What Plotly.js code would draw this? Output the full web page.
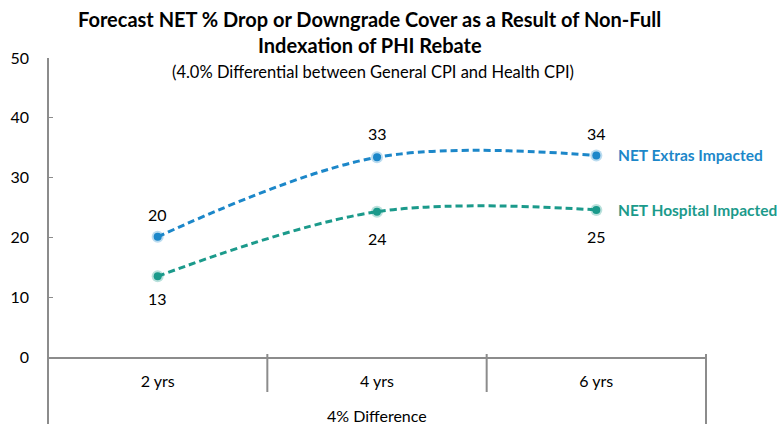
<!DOCTYPE html>
<html>
<head>
<meta charset="utf-8">
<script src="https://cdn.plot.ly/plotly-3.0.1.min.js"></script>
<style>html,body{margin:0;padding:0;background:#fff;}#chart{width:780px;height:426px;}</style>
</head>
<body>
<div id="chart"></div>
<script>
const categories = ["2 yrs", "4 yrs", "6 yrs"];
const groupLabel = "4% Difference";
const extrasName = "NET Extras Impacted";
const hospitalName = "NET Hospital Impacted";
const extrasValues = [20.1, 33.4, 33.7];
const hospitalValues = [13.5, 24.3, 24.6];
const extrasLabels = ["20", "33", "34"];
const hospitalLabels = ["13", "24", "25"];
const yTicks = [0, 10, 20, 30, 40, 50];
const titleLines = ["Forecast NET % Drop or Downgrade Cover as a Result of Non-Full", "Indexation of PHI Rebate"];
const subtitle = "(4.0% Differential between General CPI and Health CPI)";

const blue = "#1C87C9";
const teal = "#1B9A8B";
const FONT = "Lato, 'Open Sans', sans-serif";

function series(vals, color, name) {
  return {
    type: "scatter", mode: "lines+markers", name: name,
    x: categories, y: vals,
    line: {color: color, width: 3, dash: "7px,4px", shape: "spline", smoothing: 1},
    marker: {size: 8, color: color},
    cliponaxis: false, hoverinfo: "skip"
  };
}
function glow(vals, color) {
  return {type: "scatter", mode: "markers", x: categories, y: vals, showlegend: false,
    marker: {size: 12, color: color, opacity: 0.3}, hoverinfo: "skip", cliponaxis: false};
}

const data = [
  glow(extrasValues, blue), glow(hospitalValues, teal),
  series(extrasValues, blue, extrasName),
  series(hospitalValues, teal, hospitalName)
];

const axisColor = "#8c8c8c";
const ext = -0.224;
const shapes = [
  {type: "line", xref: "paper", yref: "paper", x0: 0, x1: 0, y0: ext, y1: 1, line: {color: axisColor, width: 2}},
  {type: "line", xref: "paper", yref: "paper", x0: 1, x1: 1, y0: ext, y1: 0.01, line: {color: axisColor, width: 2}},
  {type: "line", xref: "x", yref: "paper", x0: 0.5, x1: 0.5, y0: -0.117, y1: 0.01, line: {color: axisColor, width: 2}},
  {type: "line", xref: "x", yref: "paper", x0: 1.5, x1: 1.5, y0: -0.117, y1: 0.01, line: {color: axisColor, width: 2}}
];

const last = categories.length - 1;
const labelFont = {family: FONT, size: 16, color: "#000"};
const annotations = [
  {xref: "x", yref: "y", x: categories[last], y: extrasValues[last], text: "<b>" + extrasName + "</b>",
   showarrow: false, xanchor: "left", xshift: 20, font: {family: FONT, size: 15.5, color: blue}},
  {xref: "x", yref: "y", x: categories[last], y: hospitalValues[last], text: "<b>" + hospitalName + "</b>",
   showarrow: false, xanchor: "left", xshift: 20, font: {family: FONT, size: 15.5, color: teal}},
  {xref: "paper", yref: "paper", x: 0.5, y: -0.195, text: groupLabel, showarrow: false,
   yanchor: "middle", font: {family: FONT, size: 16, color: "#000"}},
  {xref: "paper", yref: "paper", x: 0.494, y: 0.953, text: subtitle,
   showarrow: false, yanchor: "middle", font: {family: FONT, size: 16.5, color: "#000"}},
  {xref: "paper", yref: "paper", x: 0.489, y: 1.130, text: "<b>" + titleLines[0] + "</b>",
   showarrow: false, yanchor: "middle", font: {family: FONT, size: 20, color: "#000"}},
  {xref: "paper", yref: "paper", x: 0.489, y: 1.043, text: "<b>" + titleLines[1] + "</b>",
   showarrow: false, yanchor: "middle", font: {family: FONT, size: 20, color: "#000"}}
];
const extrasShift = [22, 24, 22];
const hospitalShift = [-22, -27, -27];
categories.forEach((c, i) => {
  annotations.push({xref: "x", yref: "y", x: c, y: extrasValues[i], text: extrasLabels[i], showarrow: false,
    yanchor: "middle", yshift: extrasShift[i], font: labelFont});
  annotations.push({xref: "x", yref: "y", x: c, y: hospitalValues[i], text: hospitalLabels[i], showarrow: false,
    yanchor: "middle", yshift: hospitalShift[i], font: labelFont});
});

const layout = {
  width: 780, height: 426,
  margin: {l: 48, r: 74, t: 58, b: 69},
  paper_bgcolor: "#fff", plot_bgcolor: "#fff",
  showlegend: false,
  xaxis: {type: "category", range: [-0.5, 2.5], showgrid: false, zeroline: false,
    showline: true, linecolor: axisColor, linewidth: 2, ticks: "", ticklen: 0,
    ticklabelstandoff: 9,
    tickfont: {family: FONT, size: 16, color: "#000"}, automargin: false, fixedrange: true},
  yaxis: {range: [0, 50], tickvals: yTicks, showgrid: false, zeroline: false,
    showline: false, ticks: "inside", ticklen: 5, tickcolor: axisColor, tickwidth: 1,
    tickfont: {family: FONT, size: 16, color: "#000"}, ticklabelstandoff: 18, automargin: false, fixedrange: true},
  shapes: shapes, annotations: annotations
};

Plotly.newPlot("chart", data, layout, {displayModeBar: false, staticPlot: true});
</script>
</body>
</html>
